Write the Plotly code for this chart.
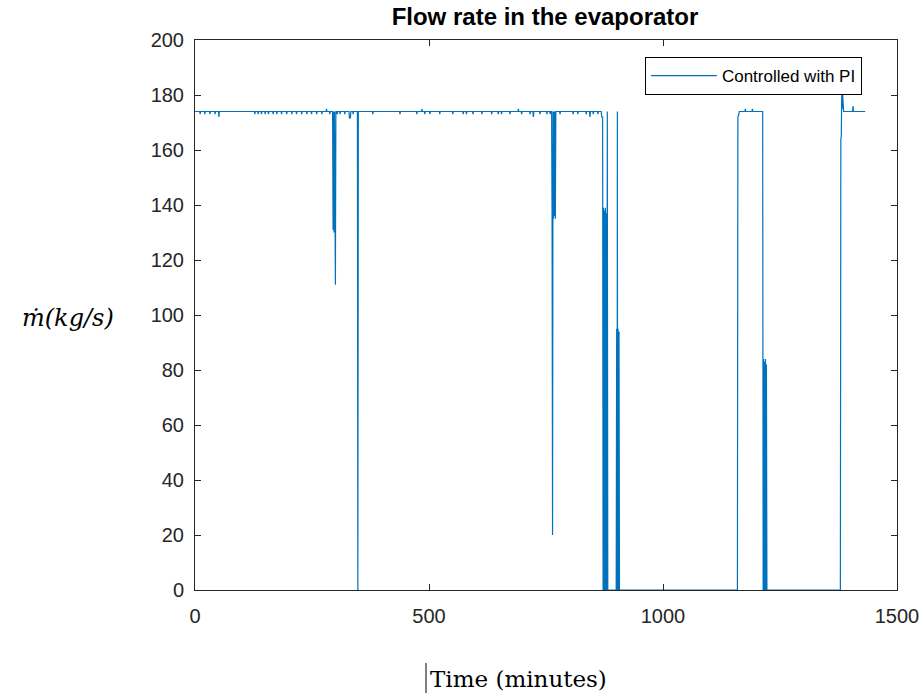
import plotly.graph_objects as go

# Time (minutes) and evaporator flow rate (kg/s)
minutes = [
    0, 10, 11, 12, 20, 21, 22, 31, 32, 33, 42, 43, 44, 50, 51, 52,
    127, 128, 129, 134, 135, 136, 141, 142, 143, 149, 150, 151, 156, 157, 158,
    166, 167, 168, 174, 175, 176, 184, 185, 186, 195, 196, 197, 206, 207, 208,
    216, 217, 218, 227, 228, 229, 238, 239, 240, 248, 249, 250, 259, 260, 261,
    270, 271, 272, 280, 281, 282, 287, 288, 289,
    294, 295, 296, 297, 298, 299, 300, 301,
    303, 304, 305, 309, 310, 311, 319, 320, 321, 329, 330, 331, 332, 333, 337, 338, 339,
    347, 348, 349,
    379, 380, 381, 437, 438, 439, 473, 474, 475, 484, 485, 486, 490, 491, 492,
    501, 502, 503, 522, 523, 524, 550, 551, 552, 572, 573, 574, 579, 580, 581,
    593, 594, 595, 612, 613, 614, 633, 634, 635, 647, 648, 649, 654, 655, 656,
    672, 673, 674, 690, 691, 692, 697, 698, 699, 715, 716, 717, 722, 723, 724,
    736, 737, 738, 751, 752, 753, 758, 759, 760,
    762, 763, 764, 765, 766, 767, 768, 769, 770, 771,
    779, 780, 781, 807, 808, 809, 817, 818, 819, 835, 836, 837, 843, 844, 845,
    850, 851, 852, 860, 861, 862,
    868, 869, 871, 872, 873, 874, 875, 876, 877, 878, 879, 880, 881, 882,
    900, 901, 902, 902.5, 903, 904, 905, 906, 907,
    1159, 1160, 1162, 1163, 1175, 1176, 1177, 1190, 1191, 1192,
    1213, 1214, 1215, 1216, 1217, 1218, 1219, 1220, 1221, 1222,
    1379, 1380, 1381, 1382, 1383, 1384, 1385, 1386, 1405, 1406, 1407, 1432,
]
flow = [
    174, 174, 173, 174, 174, 173, 174, 174, 173, 174, 174, 173, 174, 174, 172, 174,
    174, 173, 174, 174, 173, 174, 174, 173, 174, 174, 173, 174, 174, 173, 174,
    174, 173, 174, 174, 173, 174, 174, 173, 174, 174, 173, 174, 174, 173, 174,
    174, 173, 174, 174, 173, 174, 174, 173, 174, 174, 173, 174, 174, 173, 174,
    174, 173, 174, 174, 175, 174, 174, 173, 174,
    174, 131, 174, 130, 174, 131, 111, 174,
    174, 173, 174, 174, 173, 174, 174, 173, 174, 174, 171.5, 172, 171.5, 174, 174, 173, 174,
    174, 0, 174,
    174, 173, 174, 174, 173, 174, 174, 173, 174, 174, 175, 174, 174, 173, 174,
    174, 173, 174, 174, 173, 174, 174, 173, 174, 174, 173, 174, 174, 173, 174,
    174, 173, 174, 174, 173, 174, 174, 173, 174, 174, 173, 174, 174, 173, 174,
    174, 173, 174, 174, 175, 174, 174, 173, 174, 174, 173, 174, 174, 172, 174,
    174, 173, 174, 174, 173, 174, 174, 173, 174,
    174, 135, 20, 174, 135, 174, 136, 174, 135, 174,
    174, 173, 174, 174, 173, 174, 174, 173, 174, 174, 173, 174, 174, 172, 174,
    174, 173, 174, 174, 173, 174,
    174, 172, 172, 0, 139, 0, 138, 0, 139, 0, 137, 0, 174, 0,
    0, 95, 0, 174, 0, 95, 0, 94, 0,
    0, 172, 173, 174, 174, 175, 174, 174, 175, 174,
    174, 0, 84, 0, 83, 0, 84, 0, 82, 0,
    0, 164, 165, 182, 175, 180, 175, 174, 174, 176, 174, 174,
]

x_ticks = [0, 500, 1000, 1500]
y_ticks = [0, 20, 40, 60, 80, 100, 120, 140, 160, 180, 200]

AX = "#262626"

fig = go.Figure()
fig.add_trace(go.Scatter(
    x=minutes, y=flow, mode="lines", name="Controlled with PI",
    line=dict(color="#0072BD", width=1.2),
))

axis_common = dict(
    showline=True, linecolor=AX, linewidth=1, mirror="allticks",
    ticks="inside", ticklen=6, tickcolor=AX, tickwidth=1,
    showgrid=False, zeroline=False, automargin=False,
    tickfont=dict(family="Liberation Sans, Arial", size=20, color=AX),
)

fig.update_layout(
    width=920, height=695,
    paper_bgcolor="white", plot_bgcolor="white",
    margin=dict(l=195, r=23, t=40, b=105),
    title=dict(
        text="<b>Flow rate in the evaporator</b>",
        x=545 / 920, xanchor="center", y=1 - 17 / 695, yanchor="middle", yref="container",
        font=dict(family="Liberation Sans, Arial", size=24, color="black"),
    ),
    xaxis=dict(range=[0, 1500], tickvals=x_ticks, ticklabelstandoff=8, **axis_common),
    yaxis=dict(range=[0, 200], tickvals=y_ticks, ticklabelstandoff=6, **axis_common),
    showlegend=True,
    legend=dict(
        x=0.95, xanchor="right", y=0.969, yanchor="top",
        bgcolor="white", bordercolor="black", borderwidth=1,
        font=dict(family="Liberation Sans, Arial", size=17, color="black"),
        itemwidth=66,
    ),
    annotations=[
        dict(text="<i>ṁ(kg/s)</i>", xref="paper", yref="paper",
             x=(68 - 195) / 702, y=(590 - 318) / 550, xanchor="center", yanchor="middle",
             showarrow=False,
             font=dict(family="DejaVu Serif", size=24, color="black")),
        dict(text="Time (minutes)", xref="paper", yref="paper",
             x=(518 - 195) / 702, y=(590 - 679) / 550, xanchor="center", yanchor="middle",
             showarrow=False,
             font=dict(family="DejaVu Serif", size=23, color="black")),
    ],
    shapes=[
        dict(type="line", xref="paper", yref="paper",
             x0=(426 - 195) / 702, x1=(426 - 195) / 702,
             y0=(590 - 663) / 550, y1=(590 - 693) / 550,
             line=dict(color="black", width=1)),
    ],
)

fig.write_html(
    "out.html",
    config={"displayModeBar": False},
    post_script="document.body.style.margin='0px';document.body.style.overflow='hidden';",
)
